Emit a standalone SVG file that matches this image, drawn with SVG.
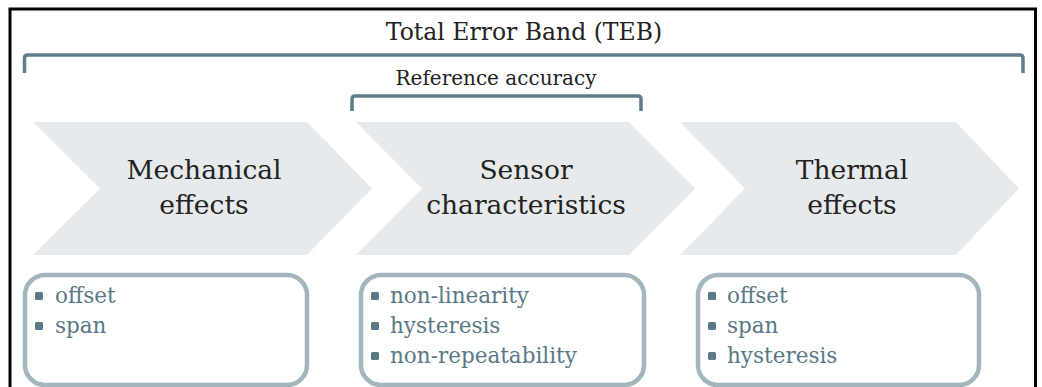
<svg xmlns="http://www.w3.org/2000/svg" width="1042" height="387" viewBox="0 0 1042 387">
<style>
.frame{fill:#fff;stroke:#000;stroke-width:3}
.br{fill:none;stroke:#5f7d8a;stroke-width:3.5;stroke-linejoin:round}
.chev{fill:#e6eaec}
.box{fill:#fff;stroke:#a3b5bd;stroke-width:4.5}
.bul{fill:#5a7886}
.t{font-family:"DejaVu Serif","Liberation Serif",serif;fill:#222}
.h{font-size:23.5px}
.r{font-size:20px}
.c{font-size:26.5px;text-anchor:middle}
.i{font-family:"DejaVu Serif","Liberation Serif",serif;font-size:21.5px;fill:#5a7886}
</style>
<rect class="frame" x="10" y="9" width="1025.5" height="390"/>
<g id="teb">
<text class="t h" x="524" y="40" text-anchor="middle">Total Error Band (TEB)</text>
<path class="br" d="M24.5,73 V58 Q24.5,55 27.5,55 H1020 Q1023,55 1023,58 V73"/>
</g>
<g id="reference-accuracy">
<text class="t r" x="496" y="85" text-anchor="middle">Reference accuracy</text>
<path class="br" d="M352,111 V99 Q352,96 355,96 H638 Q641,96 641,99 V111"/>
</g>
<g id="mechanical">
<polygon class="chev" points="33,122 307,122 372,188.5 307,255 33,255 100,188.5"/>
<text class="t c" x="204" y="179">Mechanical</text>
<text class="t c" x="204" y="214">effects</text>
</g>
<g id="sensor">
<polygon class="chev" points="356,122 629,122 695,188.5 629,255 356,255 422,188.5"/>
<text class="t c" x="526" y="179">Sensor</text>
<text class="t c" x="526" y="214">characteristics</text>
</g>
<g id="thermal">
<polygon class="chev" points="680,122 956,122 1019,188.5 956,255 680,255 745,188.5"/>
<text class="t c" x="852" y="179">Thermal</text>
<text class="t c" x="852" y="214">effects</text>
</g>
<g id="mech-items">
<rect class="box" x="25" y="275" width="282" height="110" rx="20"/>
<rect class="bul" x="35" y="292" width="8" height="8" rx="1.5"/>
<text class="i" x="55" y="303">offset</text>
<rect class="bul" x="35" y="322" width="8" height="8" rx="1.5"/>
<text class="i" x="55" y="333">span</text>
</g>
<g id="sensor-items">
<rect class="box" x="361" y="275" width="283" height="110" rx="20"/>
<rect class="bul" x="371" y="292" width="8" height="8" rx="1.5"/>
<text class="i" x="390" y="303">non-linearity</text>
<rect class="bul" x="371" y="322" width="8" height="8" rx="1.5"/>
<text class="i" x="390" y="333">hysteresis</text>
<rect class="bul" x="371" y="352" width="8" height="8" rx="1.5"/>
<text class="i" x="390" y="363">non-repeatability</text>
</g>
<g id="thermal-items">
<rect class="box" x="698" y="275" width="281" height="110" rx="20"/>
<rect class="bul" x="708" y="292" width="8" height="8" rx="1.5"/>
<text class="i" x="727" y="303">offset</text>
<rect class="bul" x="708" y="322" width="8" height="8" rx="1.5"/>
<text class="i" x="727" y="333">span</text>
<rect class="bul" x="708" y="352" width="8" height="8" rx="1.5"/>
<text class="i" x="727" y="363">hysteresis</text>
</g>
<g id="connectors"></g>
</svg>
